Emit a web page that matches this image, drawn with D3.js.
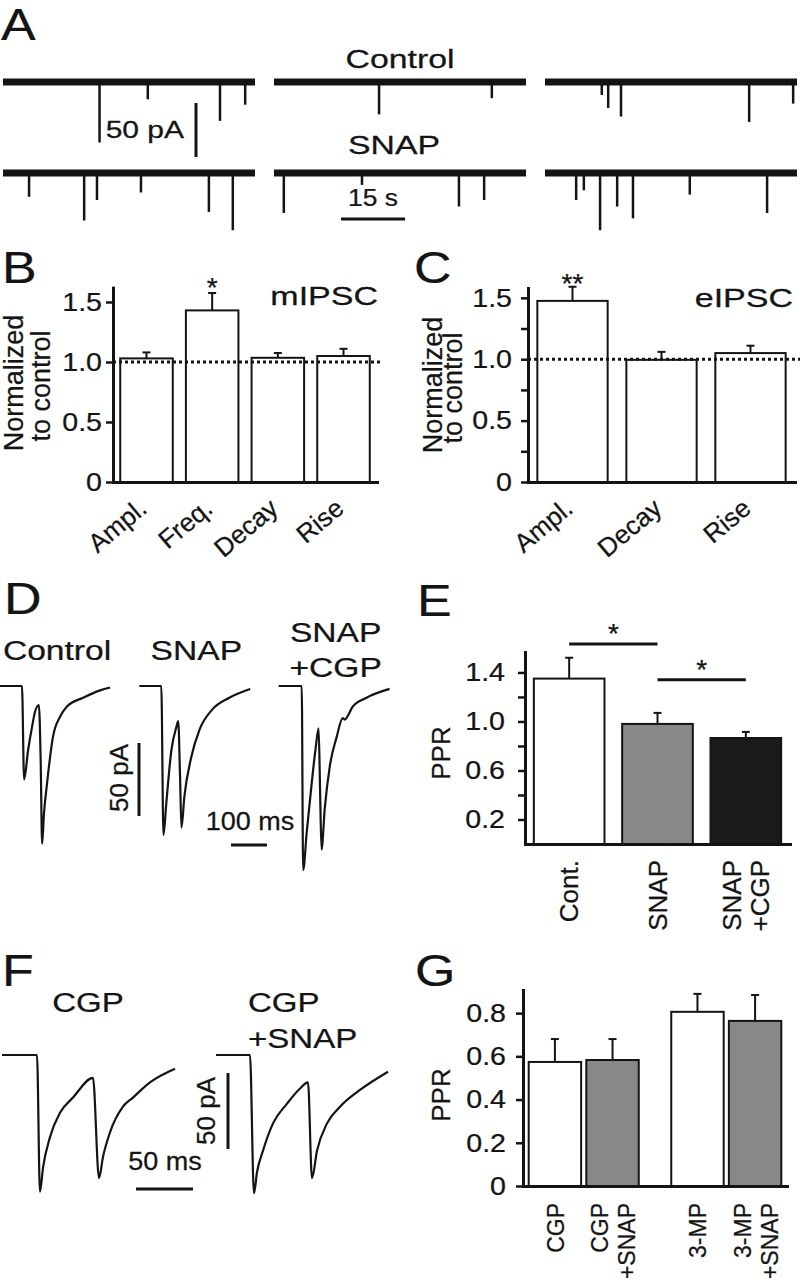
<!DOCTYPE html>
<html><head><meta charset="utf-8"><title>Figure</title>
<script src="https://cdn.jsdelivr.net/npm/d3@7/dist/d3.min.js"></script>
<style>
html,body{margin:0;padding:0;background:#fff}
svg{display:block}
</style></head>
<body>
<svg id="fig" width="800" height="1280"></svg>
<script>
// ================= DATA =================
// Panel A: spontaneous events [segment, time (s), amplitude (pA)]
const aSegments = [0, 1, 2];
const aSegSeconds = 59;
const aControlEvents = [
  [0, 22.6, 56], [0, 33.9, 16], [0, 50.8, 36], [0, 56.7, 21],
  [1, 24.6, 30], [1, 51.0, 15],
  [2, 13.3, 12], [2, 14.8, 24], [2, 17.8, 32], [2, 47.8, 37], [2, 58.1, 20]
];
const aSnapEvents = [
  [0, 6.1, 22], [0, 19.0, 44], [0, 22.0, 25], [0, 32.3, 18], [0, 48.2, 36], [0, 53.8, 53],
  [1, 2.3, 37], [1, 20.6, 11], [1, 43.3, 31], [1, 49.2, 25],
  [2, 7.3, 25], [2, 9.1, 16], [2, 12.9, 53], [2, 16.9, 31], [2, 20.6, 42], [2, 33.9, 20], [2, 52.0, 37]
];
const aRowNames = ["Control", "SNAP"];
const aBarPA = 50, aBarSec = 15;

// Panel B: mIPSC normalized to control
const bCategories = ["Ampl.", "Freq.", "Decay", "Rise"];
const bMeans = [1.03, 1.43, 1.035, 1.05];
const bErrors = [0.05, 0.145, 0.04, 0.06];
const bSig = ["", "*", "", ""];
const bTicks = [0, 0.5, 1.0, 1.5];
const bTickLabels = ["0", "0.5", "1.0", "1.5"];

// Panel C: eIPSC normalized to control
const cCategories = ["Ampl.", "Decay", "Rise"];
const cMeans = [1.475, 0.995, 1.05];
const cErrors = [0.115, 0.065, 0.06];
const cSig = ["**", "", ""];
const cTicks = [0, 0.5, 1.0, 1.5];
const cTickLabels = ["0", "0.5", "1.0", "1.5"];
const cMinorTicks = [0.25, 0.75, 1.25];

// Panel D: paired-pulse traces, time (ms) / current (pA)
const dConditions = ["Control", "SNAP", "SNAP+CGP"];
const dTitles = [["Control"], ["SNAP"], ["SNAP", "+CGP"]];
const dControlT = [0, 61, 67, 78, 89, 97, 108, 113, 117, 122, 131, 147, 167, 186, 231, 278, 306];
const dControlI = [0, 0, -64, -44, -28, -18, -13, -51, -108, -88, -66, -35, -21, -14, -8, -3, -1];
const dSnapT = [0, 61, 67, 75, 89, 103, 108, 113, 117, 125, 144, 167, 203, 250, 308];
const dSnapI = [0, 0, -102, -80, -44, -28, -24, -61, -97, -76, -49, -30, -16, -8, -2];
const dSnapCgpT = [0, 64, 68, 78, 92, 103, 111, 115, 119, 128, 142, 161, 178, 183, 206, 244, 308];
const dSnapCgpI = [0, 0, -126, -100, -66, -42, -29, -71, -112, -84, -55, -35, -22, -23, -14, -8, -2];
const dBarPA = 50, dBarMs = 100;

// Panel E: PPR
const eCategories = [["Cont."], ["SNAP"], ["SNAP", "+CGP"]];
const eMeans = [1.35, 0.98, 0.865];
const eErrors = [0.17, 0.09, 0.05];
const eTicks = [0.2, 0.6, 1.0, 1.4];
const eTickLabels = ["0.2", "0.6", "1.0", "1.4"];
const eMinorTicks = [0.4, 0.8, 1.2];
const eComparisons = [[0, 1, 1.633, "*"], [1, 2, 1.34, "*"]];

// Panel F: traces with CGP, time (ms) / current (pA)
const fConditions = ["CGP", "CGP+SNAP"];
const fTitles = [["CGP"], ["CGP", "+SNAP"]];
const fCgpT = [0, 30.7, 33.3, 36.0, 42.1, 50.9, 62.3, 79.8, 85.1, 88.6, 94.7, 106.1, 114.9, 129.8, 151.8];
const fCgpI = [0, 0, -90, -74, -54, -38, -28, -15, -81, -67, -51, -34, -28, -18, -9];
const fCgpSnapT = [0, 29.8, 33.3, 36.0, 41.2, 50.0, 62.3, 73.7, 80.7, 84.2, 88.6, 97.4, 108.8, 126.3, 150.9];
const fCgpSnapI = [0, 0, -91, -77, -63, -45, -32, -22, -18, -81, -63, -45, -34, -23, -11];
const fBarPA = 50, fBarMs = 50;

// Panel G: PPR
const gGroups = ["CGP", "3-MP"];
const gConds = ["alone", "+SNAP"];
const gLabels = [["CGP"], ["CGP", "+SNAP"], ["3-MP"], ["3-MP", "+SNAP"]];
const gMeans = [0.574, 0.583, 0.806, 0.764];
const gErrors = [0.106, 0.097, 0.083, 0.120];
const gTicks = [0, 0.2, 0.4, 0.6, 0.8];
const gTickLabels = ["0", "0.2", "0.4", "0.6", "0.8"];

// ================= DRAWING =================
const FONT = '"Liberation Sans", Arial, Helvetica, sans-serif';
const INK = "#141414";
const svg = d3.select("#fig");
svg.append("rect").attr("width", 800).attr("height", 1280).attr("fill", "#fff");

function txt(g, x, y, s, o = {}) {
  return g.append("text")
    .attr("transform", `translate(${x},${y}) scale(${o.sx || 1},1) rotate(${o.rot || 0})`)
    .attr("text-anchor", o.anchor || "start")
    .attr("font-family", FONT)
    .attr("font-size", o.size || 24)
    .attr("fill", INK)
    .attr("stroke", INK).attr("stroke-width", 0.25)
    .text(s);
}
function panelLetter(s, x, y) { txt(svg, x, y, s, { size: 44, sx: 1.18 }); }

function yAxis(g, x, scale, ticks, labels, pad, minor) {
  const ax = g.append("g").attr("transform", `translate(${x},0)`)
    .call(d3.axisLeft(scale).tickValues(ticks).tickFormat((d, i) => labels[i])
      .tickSize(7).tickSizeOuter(0).tickPadding(pad));
  ax.attr("font-family", FONT).attr("font-size", 26);
  ax.select(".domain").attr("stroke", INK).attr("stroke-width", 3).attr("stroke-linecap", "square");
  ax.selectAll(".tick line").attr("stroke", INK).attr("stroke-width", 2.5);
  ax.selectAll(".tick text").attr("fill", INK).attr("stroke", INK).attr("stroke-width", 0.25).attr("x", null)
    .attr("transform", `translate(${-(7 + pad)},0) scale(1.1,1)`);
  if (minor) {
    const mx = g.append("g").attr("transform", `translate(${x},0)`)
      .call(d3.axisLeft(scale).tickValues(minor).tickFormat("").tickSize(7));
    mx.select(".domain").remove();
    mx.selectAll(".tick line").attr("stroke", INK).attr("stroke-width", 2.5);
  }
  return ax;
}
function xAxisLine(g, y, band, fmt) {
  const ax = g.append("g").attr("transform", `translate(0,${y})`)
    .call(d3.axisBottom(band).tickSize(0).tickSizeOuter(0).tickFormat(fmt || ""));
  ax.select(".domain").attr("stroke", INK).attr("stroke-width", 3).attr("stroke-linecap", "square");
  ax.attr("font-family", FONT).attr("font-size", 26);
  ax.selectAll(".tick text").attr("stroke", INK).attr("stroke-width", 0.25);
  return ax;
}
function bars(g, xs, widths, ys, means, errs, fills) {
  const data = means.map((m, i) => ({ m, e: errs[i], x: xs[i], w: widths, f: fills[i] }));
  g.selectAll(null).data(data).join("line")
    .attr("x1", d => d.x + d.w / 2).attr("x2", d => d.x + d.w / 2)
    .attr("y1", d => ys(d.m)).attr("y2", d => ys(d.m + d.e))
    .attr("stroke", INK).attr("stroke-width", 2);
  g.selectAll(null).data(data).join("line")
    .attr("x1", d => d.x + d.w / 2 - 4).attr("x2", d => d.x + d.w / 2 + 4)
    .attr("y1", d => ys(d.m + d.e)).attr("y2", d => ys(d.m + d.e))
    .attr("stroke", INK).attr("stroke-width", 2);
  g.selectAll(null).data(data).join("rect")
    .attr("x", d => d.x).attr("width", d => d.w)
    .attr("y", d => ys(d.m)).attr("height", d => ys(0) - ys(d.m))
    .attr("fill", d => d.f).attr("stroke", INK).attr("stroke-width", 2);
}

// ---------- Panel A ----------
{
  const g = svg.append("g");
  panelLetter("A", 1, 40);
  const xSeg = d3.scaleBand().domain(aSegments).range([3, 797]).paddingInner(0.07);
  const xTime = d3.scaleLinear().domain([0, aSegSeconds]).range([0, xSeg.bandwidth()]);
  const yAmp = d3.scaleLinear().domain([0, 50]).range([0, 54]);
  const rows = [
    { events: aControlEvents, base: 82, name: aRowNames[0], lx: 400, ly: 68 },
    { events: aSnapEvents, base: 173, name: aRowNames[1], lx: 394, ly: 154 }
  ];
  rows.forEach(r => {
    g.selectAll(null).data(aSegments).join("line")
      .attr("x1", s => xSeg(s)).attr("x2", s => xSeg(s) + xSeg.bandwidth())
      .attr("y1", r.base).attr("y2", r.base)
      .attr("stroke", INK).attr("stroke-width", 7);
    g.selectAll(null).data(r.events).join("line")
      .attr("x1", d => xSeg(d[0]) + xTime(d[1])).attr("x2", d => xSeg(d[0]) + xTime(d[1]))
      .attr("y1", r.base).attr("y2", d => r.base + yAmp(d[2]))
      .attr("stroke", INK).attr("stroke-width", 2.5);
    txt(g, r.lx, r.ly, r.name, { size: 26, sx: 1.3, anchor: "middle" });
  });
  // scale bars
  g.append("line").attr("x1", 196).attr("x2", 196).attr("y1", 103).attr("y2", 103 + yAmp(aBarPA))
    .attr("stroke", INK).attr("stroke-width", 3);
  txt(g, 184, 138, `${aBarPA} pA`, { size: 24, sx: 1.25, anchor: "end" });
  g.append("line").attr("x1", 341).attr("x2", 341 + xTime(aBarSec)).attr("y1", 219).attr("y2", 219)
    .attr("stroke", INK).attr("stroke-width", 3);
  txt(g, 373, 206, `${aBarSec} s`, { size: 24, sx: 1.1, anchor: "middle" });
}

// ---------- Panel B ----------
{
  const g = svg.append("g");
  panelLetter("B", 2, 283);
  const x = d3.scaleBand().domain(bCategories).range([113, 377]).paddingInner(0.2).paddingOuter(0.11);
  const y = d3.scaleLinear().domain([0, 1.62]).range([482, 287.6]);
  bars(g, bCategories.map(c => x(c)), x.bandwidth(), y, bMeans, bErrors, bCategories.map(() => "#fff"));
  g.append("line").attr("x1", 113).attr("x2", 380).attr("y1", y(1)).attr("y2", y(1))
    .attr("stroke", INK).attr("stroke-width", 3).attr("stroke-dasharray", "3,3");
  yAxis(g, 113, y, bTicks, bTickLabels, 4);
  const ax = xAxisLine(g, 482, x, d => d);
  ax.selectAll(".tick text").attr("fill", INK).attr("y", null).attr("dy", null)
    .attr("text-anchor", "end").attr("transform", "translate(2,29) rotate(-40)");
  bCategories.forEach((c, i) => {
    if (bSig[i]) txt(g, x(c) + x.bandwidth() / 2, y(bMeans[i] + bErrors[i]) + 4, bSig[i], { size: 28, anchor: "middle" });
  });
  txt(g, 378, 305, "mIPSC", { size: 25, sx: 1.36, anchor: "end" });
  txt(g, 23, 383, "Normalized", { size: 27, rot: -90, anchor: "middle" });
  txt(g, 50, 386, "to control", { size: 27, rot: -90, anchor: "middle" });
}

// ---------- Panel C ----------
{
  const g = svg.append("g");
  panelLetter("C", 414, 283);
  const x = d3.scaleBand().domain(cCategories).range([528, 795]).paddingInner(0.21).paddingOuter(0.105);
  const y = d3.scaleLinear().domain([0, 1.58]).range([482, 288]);
  bars(g, cCategories.map(c => x(c)), x.bandwidth(), y, cMeans, cErrors, cCategories.map(() => "#fff"));
  g.append("line").attr("x1", 528).attr("x2", 800).attr("y1", y(1)).attr("y2", y(1))
    .attr("stroke", INK).attr("stroke-width", 3).attr("stroke-dasharray", "3,3");
  yAxis(g, 528, y, cTicks, cTickLabels, 9, cMinorTicks);
  const ax = xAxisLine(g, 482, x, d => d);
  ax.selectAll(".tick text").attr("fill", INK).attr("y", null).attr("dy", null)
    .attr("text-anchor", "end").attr("transform", "translate(2,29) rotate(-40)");
  cCategories.forEach((c, i) => {
    if (cSig[i]) txt(g, x(c) + x.bandwidth() / 2, y(cMeans[i] + cErrors[i]) + 6, cSig[i], { size: 28, anchor: "middle" });
  });
  txt(g, 793, 307, "eIPSC", { size: 25, sx: 1.36, anchor: "end" });
  txt(g, 442, 385, "Normalized", { size: 27, rot: -90, anchor: "middle" });
  txt(g, 462, 388, "to control", { size: 27, rot: -90, anchor: "middle" });
}

// ---------- Panel D ----------
{
  const g = svg.append("g");
  panelLetter("D", 4, 614);
  const xo = d3.scaleBand().domain(dConditions).range([0, 418]);
  const t = d3.scaleLinear().domain([0, 100]).range([0, 36]);
  const iy = d3.scaleLinear().domain([0, -50]).range([686, 759]);
  const traces = [
    dControlT.map((v, k) => ({ t: v, i: dControlI[k] })),
    dSnapT.map((v, k) => ({ t: v, i: dSnapI[k] })),
    dSnapCgpT.map((v, k) => ({ t: v, i: dSnapCgpI[k] }))
  ];
  dConditions.forEach((c, k) => {
    const line = d3.line().x(d => xo(c) + t(d.t)).y(d => iy(d.i)).curve(d3.curveMonotoneX);
    g.append("path").attr("d", line(traces[k])).attr("fill", "none")
      .attr("stroke", INK).attr("stroke-width", 2.2).attr("stroke-linejoin", "round");
    const lines = dTitles[k];
    lines.forEach((s, j) => {
      const by = lines.length === 1 ? 660 : 642 + j * 35;
      txt(g, xo(c) + 57, by, s, { size: 28, sx: 1.2, anchor: "middle" });
    });
  });
  g.append("line").attr("x1", 139).attr("x2", 139).attr("y1", 743).attr("y2", iy(-dBarPA) - iy(0) + 743)
    .attr("stroke", INK).attr("stroke-width", 3);
  txt(g, 128, 778, `${dBarPA} pA`, { size: 26, rot: -90, anchor: "middle" });
  g.append("line").attr("x1", 231).attr("x2", 231 + t(dBarMs)).attr("y1", 845).attr("y2", 845)
    .attr("stroke", INK).attr("stroke-width", 3);
  txt(g, 250, 830, `${dBarMs} ms`, { size: 25, sx: 1.08, anchor: "middle" });
}

// ---------- Panel E ----------
{
  const g = svg.append("g");
  panelLetter("E", 417, 616);
  const idx = eMeans.map((_, i) => i);
  const x = d3.scaleBand().domain(idx).range([525, 790]).paddingInner(0.2).paddingOuter(0.1);
  const y = d3.scaleLinear().domain([0, 1.567]).range([844, 652]);
  bars(g, idx.map(i => x(i)), x.bandwidth(), y, eMeans, eErrors, ["#ffffff", "#888888", "#1a1a1a"]);
  yAxis(g, 525, y, eTicks, eTickLabels, 13, eMinorTicks);
  xAxisLine(g, 844, x);
  eComparisons.forEach(([a, b, lvl, s]) => {
    const xa = x(a) + x.bandwidth() / 2, xb = x(b) + x.bandwidth() / 2;
    g.append("line").attr("x1", xa).attr("x2", xb).attr("y1", y(lvl)).attr("y2", y(lvl))
      .attr("stroke", INK).attr("stroke-width", 3);
    txt(g, (xa + xb) / 2, y(lvl) - 1, s, { size: 28, anchor: "middle" });
  });
  eCategories.forEach((lines, i) => {
    const cx = x(i) + x.bandwidth() / 2;
    lines.forEach((s, j) => {
      txt(g, cx + 9 + (j - (lines.length - 1) / 2) * 28, 860, s, { size: 26, rot: -90, anchor: "end" });
    });
  });
  txt(g, 450, 753, "PPR", { size: 26, rot: -90, anchor: "middle" });
}

// ---------- Panel F ----------
{
  const g = svg.append("g");
  panelLetter("F", 2, 986);
  const xo = d3.scaleBand().domain(fConditions).range([2, 430]);
  const t = d3.scaleLinear().domain([0, 50]).range([0, 57]);
  const iy = d3.scaleLinear().domain([0, -50]).range([1055, 1131]);
  const traces = [
    fCgpT.map((v, k) => ({ t: v, i: fCgpI[k] })),
    fCgpSnapT.map((v, k) => ({ t: v, i: fCgpSnapI[k] }))
  ];
  const titleDx = [86, 32];
  fConditions.forEach((c, k) => {
    const line = d3.line().x(d => xo(c) + t(d.t)).y(d => iy(d.i)).curve(d3.curveMonotoneX);
    g.append("path").attr("d", line(traces[k])).attr("fill", "none")
      .attr("stroke", INK).attr("stroke-width", 2.2).attr("stroke-linejoin", "round");
    fTitles[k].forEach((s, j) => {
      txt(g, xo(c) + titleDx[k], 1012 + j * 36, s, { size: 28, sx: 1.18, anchor: k === 0 ? "middle" : "start" });
    });
  });
  g.append("line").attr("x1", 228).attr("x2", 228).attr("y1", 1073).attr("y2", 1073 + iy(-fBarPA) - iy(0))
    .attr("stroke", INK).attr("stroke-width", 3);
  txt(g, 215, 1111, `${fBarPA} pA`, { size: 26, rot: -90, anchor: "middle" });
  g.append("line").attr("x1", 136).attr("x2", 136 + t(fBarMs)).attr("y1", 1189).attr("y2", 1189)
    .attr("stroke", INK).attr("stroke-width", 3);
  txt(g, 165, 1170, `${fBarMs} ms`, { size: 25, sx: 1.08, anchor: "middle" });
}

// ---------- Panel G ----------
{
  const g = svg.append("g");
  panelLetter("G", 415, 986);
  const xg = d3.scaleBand().domain(gGroups).range([523, 787]).paddingInner(0.228).paddingOuter(0.04);
  const xc = d3.scaleBand().domain(gConds).range([0, xg.bandwidth()]).paddingInner(0.09);
  const y = d3.scaleLinear().domain([0, 0.907]).range([1186, 990]);
  const xs = [], fills = [];
  gGroups.forEach(gr => gConds.forEach((c, j) => { xs.push(xg(gr) + xc(c)); fills.push(j === 0 ? "#ffffff" : "#888888"); }));
  bars(g, xs, xc.bandwidth(), y, gMeans, gErrors, fills);
  yAxis(g, 523, y, gTicks, gTickLabels, 10);
  xAxisLine(g, 1186, xg);
  gLabels.forEach((lines, i) => {
    const cx = xs[i] + xc.bandwidth() / 2;
    lines.forEach((s, j) => {
      txt(g, cx + 9 + (j - (lines.length - 1) / 2) * 27, 1203, s, { size: 23, rot: -90, anchor: "end" });
    });
  });
  txt(g, 450, 1095, "PPR", { size: 26, rot: -90, anchor: "middle" });
}
</script>
</body></html>
